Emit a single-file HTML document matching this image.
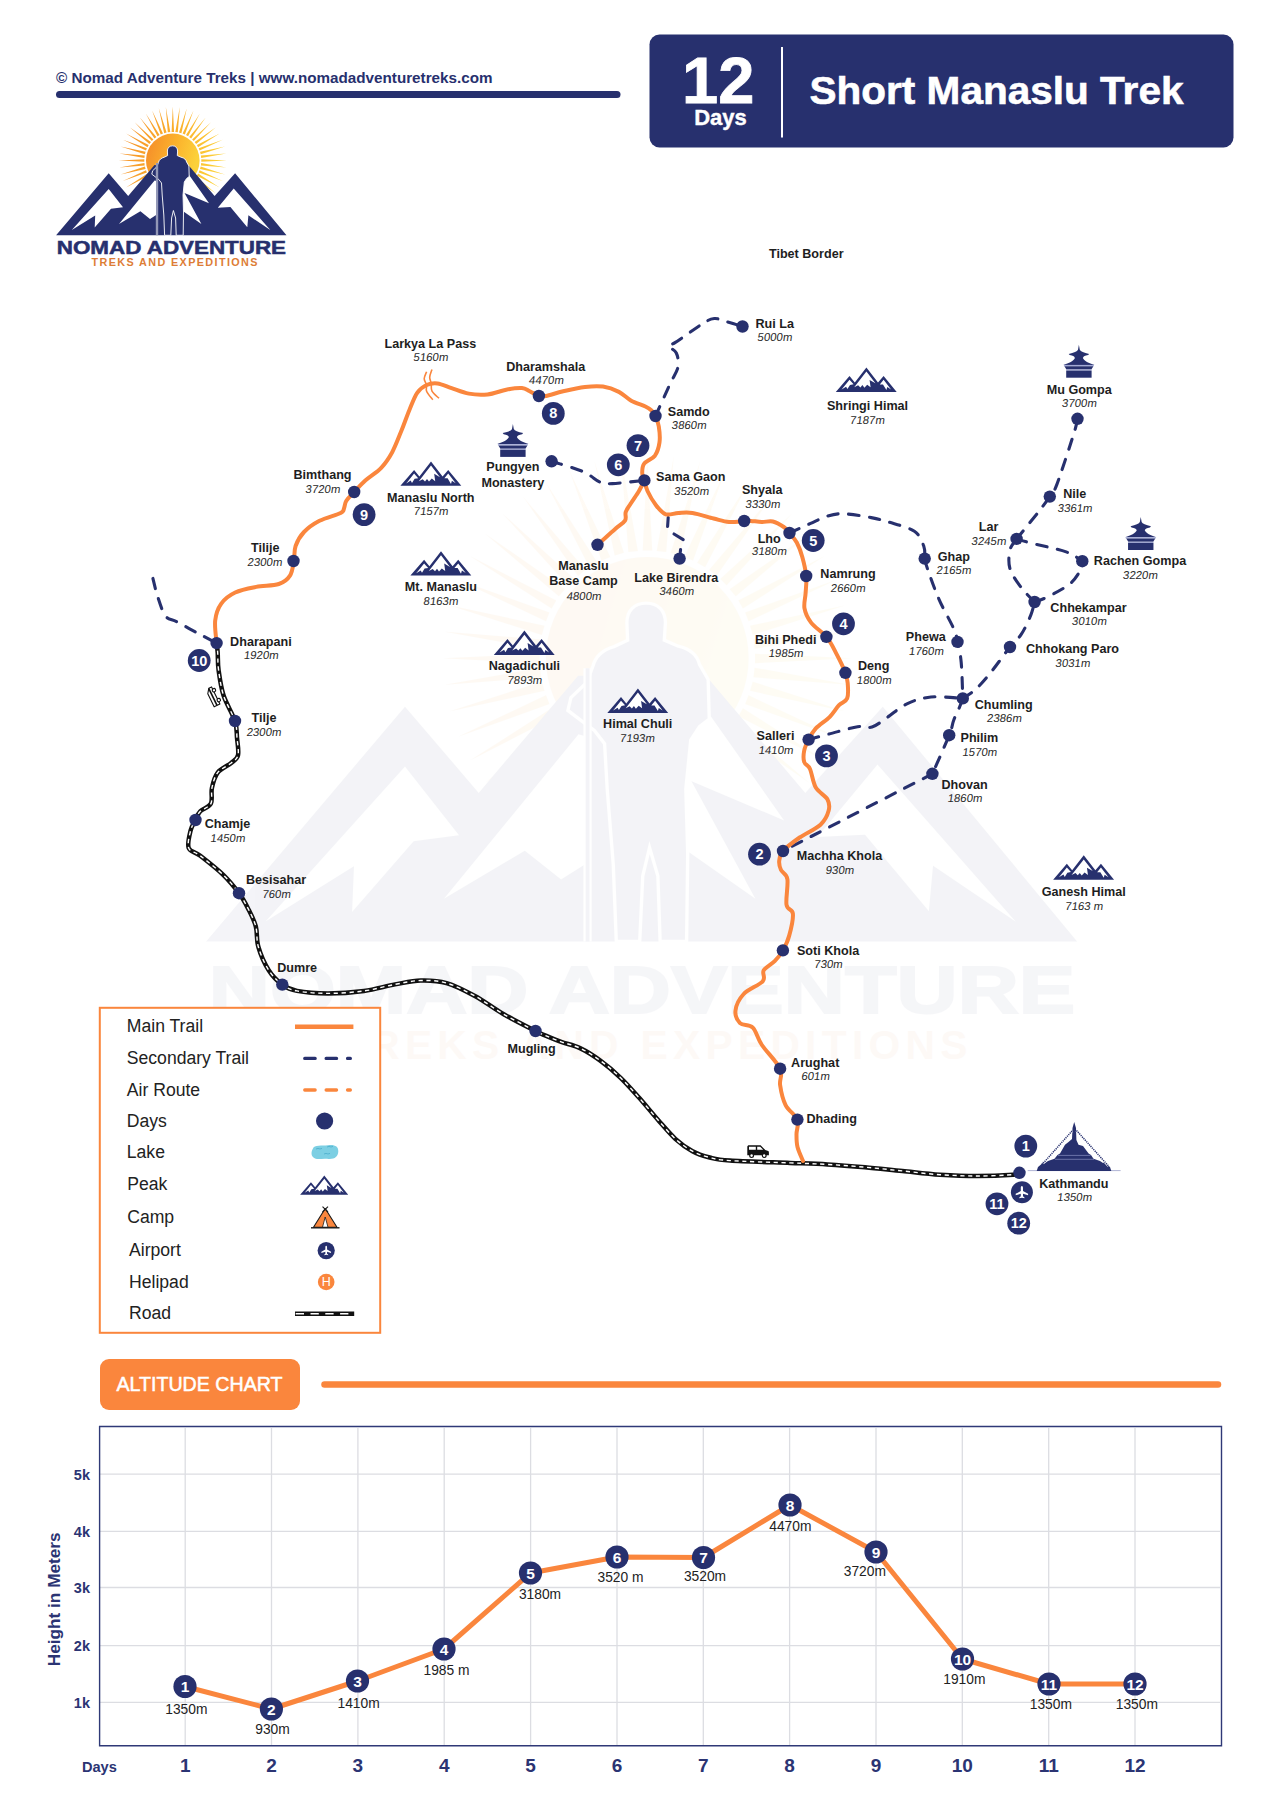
<!DOCTYPE html>
<html><head><meta charset="utf-8"><title>Short Manaslu Trek</title>
<style>
html,body{margin:0;padding:0;background:#fff;}
body{width:1280px;height:1811px;overflow:hidden;}
svg{display:block;font-family:"Liberation Sans",sans-serif;}
.lb{font-weight:bold;font-size:12.6px;fill:#1e1e1e;text-anchor:middle;}
.al{font-size:11.4px;fill:#2a2a2a;text-anchor:middle;}
.bn{font-weight:bold;font-size:14.5px;fill:#fff;text-anchor:middle;}
.lg{font-size:17.6px;fill:#222;}
.nv{fill:#27306e;}
</style></head><body>
<svg width="1280" height="1811" viewBox="0 0 1280 1811">
<defs>
<linearGradient id="sung" x1="0" y1="0" x2="1" y2="0.3">
<stop offset="0" stop-color="#f4892a"/><stop offset="0.55" stop-color="#fbb12c"/><stop offset="1" stop-color="#fcd13a"/>
</linearGradient>
<g id="peak">
<path d="M-30.6,0 L-16.9,-15.9 L-11.6,-9.4 L0,-24.4 L11.6,-9.4 L17.2,-15.9 L30.3,0 Z" fill="#27306e"/>
<path d="M0,-20.3 L9,-8.6 L3.2,-12 L4.2,-4.6 L0.8,-7.2 L-2,-4.2 L-4,-6.8 L-6,-4.4 L-8.3,-6.6 L-12.2,-4.6 Z" fill="#fff"/>
<path d="M-16.9,-12.2 L-12.8,-7.6 L-16.4,-7 L-19,-2.8 L-20.3,-5.2 L-24.8,-2.4 Z" fill="#fff"/>
<path d="M17.2,-12.2 L24.7,-2.5 L20.9,-5 L20,-1.9 L16.6,-7.5 L13.4,-7.5 Z" fill="#fff"/>
</g>
<g id="mono">
<path d="M0,-33 L0.9,-28 C1.6,-26.3 5,-25 10.2,-23.8 L9.2,-22.6 C6,-22 4.6,-21.2 4,-19.8 C5,-17 10,-14.6 15.6,-12.8 L-15.6,-12.8 C-10,-14.6 -5,-17 -4,-19.8 C-4.6,-21.2 -6,-22 -9.2,-22.6 L-10.2,-23.8 C-5,-25 -1.6,-26.3 -0.9,-28 Z" fill="#27306e"/>
<rect x="-15" y="-12.8" width="30" height="1.3" fill="#a3aad6"/>
<path d="M-14.5,-11.5 L14.5,-11.5 L12.5,-8.2 L-12.5,-8.2 Z" fill="#27306e"/>
<rect x="-12.7" y="-8.2" width="25.4" height="1.1" fill="#a3aad6"/>
<rect x="-12.7" y="-7.1" width="25.4" height="7.1" fill="#27306e"/>
</g>
<g id="lsun">
<path d="M201.3,161.7 L226.8,160.4 L201.3,159.2 Z M200.9,165.4 L226.3,167.4 L201.2,162.9 Z M200.0,169.0 L225.0,174.4 L200.7,166.6 Z M198.7,172.5 L222.7,181.1 L199.6,170.2 Z M196.9,175.7 L219.6,187.4 L198.1,173.6 Z M194.6,178.7 L215.6,193.3 L196.2,176.8 Z M192.1,181.4 L211.0,198.6 L193.8,179.7 Z M189.2,183.8 L205.7,203.2 L191.1,182.2 Z M186.0,185.7 L199.8,207.2 L188.1,184.5 Z M182.6,187.2 L193.5,210.3 L184.9,186.3 Z M179.0,188.3 L186.8,212.6 L181.4,187.6 Z M175.3,188.8 L179.8,213.9 L177.8,188.5 Z M171.6,188.9 L172.8,214.4 L174.1,188.9 Z M167.8,188.5 L165.8,213.9 L170.3,188.8 Z M164.2,187.6 L158.8,212.6 L166.6,188.3 Z M160.7,186.3 L152.1,210.3 L163.0,187.2 Z M157.5,184.5 L145.8,207.2 L159.6,185.7 Z M154.5,182.2 L139.9,203.2 L156.4,183.8 Z M151.8,179.7 L134.6,198.6 L153.5,181.4 Z M149.4,176.8 L130.0,193.3 L151.0,178.7 Z M147.5,173.6 L126.0,187.4 L148.7,175.7 Z M146.0,170.2 L122.9,181.1 L146.9,172.5 Z M144.9,166.6 L120.6,174.4 L145.6,169.0 Z M144.4,162.9 L119.3,167.4 L144.7,165.4 Z M144.3,159.2 L118.8,160.4 L144.3,161.7 Z M144.7,155.4 L119.3,153.4 L144.4,157.9 Z M145.6,151.8 L120.6,146.4 L144.9,154.2 Z M146.9,148.3 L122.9,139.7 L146.0,150.6 Z M148.7,145.1 L126.0,133.4 L147.5,147.2 Z M151.0,142.1 L130.0,127.5 L149.4,144.0 Z M153.5,139.4 L134.6,122.2 L151.8,141.1 Z M156.4,137.0 L139.9,117.6 L154.5,138.6 Z M159.6,135.1 L145.8,113.6 L157.5,136.3 Z M163.0,133.6 L152.1,110.5 L160.7,134.5 Z M166.6,132.5 L158.8,108.2 L164.2,133.2 Z M170.3,132.0 L165.8,106.9 L167.8,132.3 Z M174.1,131.9 L172.8,106.4 L171.6,131.9 Z M177.8,132.3 L179.8,106.9 L175.3,132.0 Z M181.4,133.2 L186.8,108.2 L179.0,132.5 Z M184.9,134.5 L193.5,110.5 L182.6,133.6 Z M188.1,136.3 L199.8,113.6 L186.0,135.1 Z M191.1,138.6 L205.7,117.6 L189.2,137.0 Z M193.8,141.1 L211.0,122.2 L192.1,139.4 Z M196.2,144.0 L215.6,127.5 L194.6,142.1 Z M198.1,147.2 L219.6,133.4 L196.9,145.1 Z M199.6,150.6 L222.7,139.7 L198.7,148.3 Z M200.7,154.2 L225.0,146.4 L200.0,151.8 Z M201.2,157.9 L226.3,153.4 L200.9,155.4 Z" fill="url(#sung)"/>
<circle cx="172.8" cy="160.4" r="26.8" fill="url(#sung)"/>
</g>
<g id="lmtn">
<path d="M56.1,235.3 L108.7,173.2 L128.2,196 L154.5,165 L188.3,165 L214.6,196 L235.1,173.2 L286.5,235.3 Z" fill="#27306e"/>
<path d="M108.7,189 L71.8,230 L95.2,215.4 L94.7,227.5 L111,208.8 L123,207.2 Z" fill="#fff"/>
<path d="M119,224 L154.6,180.5 L156.5,181 L156.5,214.8 L150,218.9 L140.4,211.3 Z" fill="#fff"/>
<path d="M187,172 L209,203.3 L184.5,192.9 L201.4,224 L182.8,211 L183,185 Z" fill="#fff"/>
<path d="M233.7,188.5 L217.8,207.7 L230.4,207.1 L247.3,227.3 L248.4,215.3 L270.3,230.1 Z" fill="#fff"/>
<path d="M172.5,145.8 C175.8,145.8 177.6,148 177.6,151 L177.3,155.6 L181,157.2 C184.5,158 186,159.6 186.6,162 L188.9,166 L189.2,176.5 L186.6,178.5 L184.3,182 L183,195 L183.5,212 L183.2,235.3 L176.2,235.3 L175.6,218 L173.4,210.5 L171.6,218 L170.8,235.3 L164.6,235.3 L163.8,215 L162.2,195 L161.5,183 L158.8,179.5 L155.5,177 L151.8,174.2 L152.6,170.8 L156.8,166.8 L158.4,162.5 C159.2,159.5 161.5,158 164,157.3 L167.6,155.6 L167.4,151 C167.4,148 169.2,145.8 172.5,145.8 Z" fill="#27306e" stroke="#fff" stroke-width="0.9"/>
<line x1="157" y1="163" x2="157" y2="235.3" stroke="#fff" stroke-width="2.2"/>
<line x1="157" y1="163" x2="157" y2="235.3" stroke="#27306e" stroke-width="1"/>
</g>
<g id="ltxt">
<text x="56.8" y="254.3" textLength="229.2" lengthAdjust="spacingAndGlyphs" style="font-weight:bold;font-size:17.6px" fill="#27306e" stroke="#27306e" stroke-width="0.5">NOMAD ADVENTURE</text>
<text x="91.5" y="266.3" textLength="166" lengthAdjust="spacing" style="font-size:10.8px;font-weight:bold" fill="#dd7d36">TREKS AND EXPEDITIONS</text>
</g>
<g id="logo"><use href="#lsun"/><use href="#lmtn"/><use href="#ltxt"/></g>
</defs>
<g transform="translate(-5.9,52) scale(3.78)"><g opacity="0.05"><use href="#lsun"/><use href="#lmtn"/></g><use href="#ltxt" opacity="0.04"/></g>
<text x="56" y="83" textLength="436.5" lengthAdjust="spacingAndGlyphs" style="font-weight:bold;font-size:15px" fill="#27306e">© Nomad Adventure Treks | www.nomadadventuretreks.com</text>
<line x1="59.5" y1="94.5" x2="617" y2="94.5" stroke="#27306e" stroke-width="7" stroke-linecap="round"/>
<rect x="649.5" y="34.5" width="584" height="113" rx="10" fill="#27306e"/>
<text x="718.2" y="102.5" text-anchor="middle" style="font-weight:bold;font-size:65px" fill="#fff" stroke="#fff" stroke-width="0.8">12</text>
<text x="720.5" y="125" text-anchor="middle" style="font-weight:bold;font-size:22px" fill="#fff" stroke="#fff" stroke-width="0.4">Days</text>
<rect x="781" y="47" width="2" height="90.5" fill="#fff"/>
<text x="809.5" y="103.7" textLength="374" lengthAdjust="spacingAndGlyphs" style="font-weight:bold;font-size:39.5px" fill="#fff" stroke="#fff" stroke-width="0.6">Short Manaslu Trek</text>
<use href="#logo"/>
<path d="M216.6,643.1 C216.8,644.7 217.4,648.3 217.7,652.8 C218.0,657.3 217.6,663.1 218.6,670.2 C219.6,677.3 220.8,686.8 223.5,695.3 C226.2,703.8 232.8,713.9 235.0,721.0 C237.2,728.1 236.5,732.1 237.0,737.8 C237.5,743.5 239.0,751.0 238.0,755.2 C237.0,759.5 234.6,760.1 231.2,763.0 C227.8,765.9 220.9,768.4 217.7,772.6 C214.5,776.8 213.0,782.9 211.9,788.1 C210.8,793.3 212.8,799.7 210.9,803.6 C209.0,807.5 202.9,808.6 200.3,811.3 C197.7,814.0 197.1,816.8 195.5,820.0 C193.9,823.2 191.7,825.9 190.6,830.6 C189.5,835.3 187.1,843.8 188.7,848.0 C190.3,852.2 194.5,851.3 200.3,855.8 C206.1,860.3 217.1,868.9 223.5,875.1 C229.9,881.3 234.9,887.7 239.0,893.2 C243.1,898.8 245.2,902.9 248.0,908.4 C250.8,913.9 254.1,920.0 255.8,926.4 C257.5,932.8 256.2,939.7 258.4,947.0 C260.5,954.3 264.7,963.9 268.7,970.2 C272.7,976.5 277.6,981.2 282.3,984.6 C287.0,988.0 289.4,989.4 297.0,990.9 C304.6,992.4 316.8,993.4 328.0,993.4 C339.2,993.4 352.8,992.4 364.0,990.9 C375.2,989.4 385.5,986.1 395.0,984.4 C404.5,982.7 412.2,980.7 420.8,980.5 C429.4,980.3 437.6,980.5 446.6,983.1 C455.6,985.7 465.4,990.9 474.9,996.0 C484.3,1001.1 493.2,1008.2 503.3,1014.0 C513.4,1019.8 528.5,1027.4 535.5,1031.0 C542.5,1034.6 541.3,1033.8 545.6,1035.6 C549.9,1037.4 555.5,1039.8 561.2,1041.9 C567.0,1044.0 573.5,1045.0 580.0,1048.1 C586.5,1051.2 593.5,1055.6 600.3,1060.6 C607.1,1065.5 614.1,1071.5 620.6,1077.8 C627.1,1084.0 633.1,1091.1 639.4,1098.1 C645.6,1105.1 652.1,1113.2 658.1,1120.0 C664.1,1126.8 669.6,1133.5 675.3,1138.8 C681.0,1144.0 686.8,1148.1 692.5,1151.2 C698.2,1154.4 703.5,1155.9 709.7,1157.5 C716.0,1159.1 716.6,1159.7 730.0,1160.6 C743.4,1161.5 773.8,1162.3 790.0,1162.9 C806.2,1163.5 815.0,1163.7 827.5,1164.4 C840.0,1165.1 852.5,1166.1 865.0,1167.2 C877.5,1168.3 890.0,1169.7 902.5,1170.9 C915.0,1172.2 927.5,1173.9 940.0,1174.7 C952.5,1175.5 965.3,1176.0 977.5,1176.0 C989.7,1176.0 1006.0,1175.2 1013.0,1174.7 C1020.0,1174.2 1018.4,1173.3 1019.5,1173.0" fill="none" stroke="#111" stroke-width="4.5" stroke-linejoin="round"/>
<path d="M216.6,643.1 C216.8,644.7 217.4,648.3 217.7,652.8 C218.0,657.3 217.6,663.1 218.6,670.2 C219.6,677.3 220.8,686.8 223.5,695.3 C226.2,703.8 232.8,713.9 235.0,721.0 C237.2,728.1 236.5,732.1 237.0,737.8 C237.5,743.5 239.0,751.0 238.0,755.2 C237.0,759.5 234.6,760.1 231.2,763.0 C227.8,765.9 220.9,768.4 217.7,772.6 C214.5,776.8 213.0,782.9 211.9,788.1 C210.8,793.3 212.8,799.7 210.9,803.6 C209.0,807.5 202.9,808.6 200.3,811.3 C197.7,814.0 197.1,816.8 195.5,820.0 C193.9,823.2 191.7,825.9 190.6,830.6 C189.5,835.3 187.1,843.8 188.7,848.0 C190.3,852.2 194.5,851.3 200.3,855.8 C206.1,860.3 217.1,868.9 223.5,875.1 C229.9,881.3 234.9,887.7 239.0,893.2 C243.1,898.8 245.2,902.9 248.0,908.4 C250.8,913.9 254.1,920.0 255.8,926.4 C257.5,932.8 256.2,939.7 258.4,947.0 C260.5,954.3 264.7,963.9 268.7,970.2 C272.7,976.5 277.6,981.2 282.3,984.6 C287.0,988.0 289.4,989.4 297.0,990.9 C304.6,992.4 316.8,993.4 328.0,993.4 C339.2,993.4 352.8,992.4 364.0,990.9 C375.2,989.4 385.5,986.1 395.0,984.4 C404.5,982.7 412.2,980.7 420.8,980.5 C429.4,980.3 437.6,980.5 446.6,983.1 C455.6,985.7 465.4,990.9 474.9,996.0 C484.3,1001.1 493.2,1008.2 503.3,1014.0 C513.4,1019.8 528.5,1027.4 535.5,1031.0 C542.5,1034.6 541.3,1033.8 545.6,1035.6 C549.9,1037.4 555.5,1039.8 561.2,1041.9 C567.0,1044.0 573.5,1045.0 580.0,1048.1 C586.5,1051.2 593.5,1055.6 600.3,1060.6 C607.1,1065.5 614.1,1071.5 620.6,1077.8 C627.1,1084.0 633.1,1091.1 639.4,1098.1 C645.6,1105.1 652.1,1113.2 658.1,1120.0 C664.1,1126.8 669.6,1133.5 675.3,1138.8 C681.0,1144.0 686.8,1148.1 692.5,1151.2 C698.2,1154.4 703.5,1155.9 709.7,1157.5 C716.0,1159.1 716.6,1159.7 730.0,1160.6 C743.4,1161.5 773.8,1162.3 790.0,1162.9 C806.2,1163.5 815.0,1163.7 827.5,1164.4 C840.0,1165.1 852.5,1166.1 865.0,1167.2 C877.5,1168.3 890.0,1169.7 902.5,1170.9 C915.0,1172.2 927.5,1173.9 940.0,1174.7 C952.5,1175.5 965.3,1176.0 977.5,1176.0 C989.7,1176.0 1006.0,1175.2 1013.0,1174.7 C1020.0,1174.2 1018.4,1173.3 1019.5,1173.0" fill="none" stroke="#fff" stroke-width="1.4" stroke-dasharray="4.2 3.6"/>
<path d="M152.9,578.4 C153.7,581.5 155.6,590.4 157.7,596.7 C159.8,603.0 162.3,611.8 165.5,616.0 C168.7,620.2 171.5,619.0 177.0,621.9 C182.5,624.8 191.7,630.0 198.3,633.5 C204.9,637.0 213.6,641.5 216.6,643.1" fill="none" stroke="#27306e" stroke-width="3.1" stroke-dasharray="10.5 10.5" stroke-linecap="round"/>
<path d="M655.5,416.0 C657.9,410.7 666.2,392.2 670.0,384.0 C673.8,375.8 677.0,372.2 678.0,367.0 C679.0,361.8 677.9,356.5 676.3,353.0 C674.7,349.5 668.6,347.8 668.5,346.0 C668.4,344.2 669.5,346.2 675.4,342.4 C681.3,338.6 697.2,327.0 703.7,323.0 C710.2,319.0 710.8,318.8 714.3,318.5 C717.8,318.2 720.3,319.9 725.0,321.2 C729.7,322.5 739.6,325.6 742.5,326.5" fill="none" stroke="#27306e" stroke-width="3.1" stroke-dasharray="10.5 10.5" stroke-linecap="round"/>
<path d="M551.6,461.3 C556.8,463.0 574.9,468.1 583.0,471.6 C591.1,475.1 595.5,480.3 600.4,482.3 C605.3,484.3 605.0,483.9 612.4,483.6 C619.7,483.3 639.1,480.9 644.4,480.4" fill="none" stroke="#27306e" stroke-width="3.1" stroke-dasharray="10.5 10.5" stroke-linecap="round"/>
<path d="M789.5,533.0 C792.9,531.5 803.7,526.5 810.0,523.7 C816.3,520.9 821.9,517.6 827.5,516.0 C833.1,514.4 836.6,513.5 843.9,513.8 C851.2,514.1 863.9,516.3 871.2,517.6 C878.6,519.0 880.9,519.6 888.1,521.9 C895.3,524.2 908.5,527.2 914.4,531.2 C920.3,535.3 922.0,541.7 923.8,546.2 C925.5,550.8 924.5,556.5 924.7,558.6" fill="none" stroke="#27306e" stroke-width="3.1" stroke-dasharray="10.5 10.5" stroke-linecap="round"/>
<path d="M924.7,558.6 C925.2,560.3 925.2,562.1 927.5,568.8 C929.8,575.4 934.4,588.8 938.8,598.8 C943.1,608.8 950.6,621.6 953.8,628.8 C956.9,635.9 956.2,636.3 957.5,641.9 C958.8,647.5 960.4,653.1 961.2,662.5 C962.1,671.9 962.5,692.4 962.8,698.4" fill="none" stroke="#27306e" stroke-width="3.1" stroke-dasharray="10.5 10.5" stroke-linecap="round"/>
<path d="M808.6,739.6 C812.0,738.7 820.8,736.1 829.0,734.0 C837.2,731.9 850.4,727.9 857.6,726.7 C864.8,725.5 866.9,728.6 872.0,727.0 C877.1,725.4 882.2,720.8 888.0,716.9 C893.8,713.0 899.7,707.1 906.9,703.8 C914.1,700.4 921.7,697.9 931.0,697.0 C940.3,696.1 957.5,698.2 962.8,698.4" fill="none" stroke="#27306e" stroke-width="3.1" stroke-dasharray="10.5 10.5" stroke-linecap="round"/>
<path d="M962.8,698.4 C962.2,699.9 960.9,703.9 959.4,707.5 C957.9,711.1 955.5,715.4 953.8,720.0 C952.0,724.6 952.8,726.2 949.2,735.2 C945.6,744.2 935.2,767.4 932.4,773.8" fill="none" stroke="#27306e" stroke-width="3.1" stroke-dasharray="10.5 10.5" stroke-linecap="round"/>
<path d="M932.4,773.8 C907.5,786.7 807.9,838.1 783.0,851.0" fill="none" stroke="#27306e" stroke-width="3.1" stroke-dasharray="10.5 10.5" stroke-linecap="round"/>
<path d="M962.8,698.4 C965.0,696.8 971.5,693.2 976.2,688.8 C981.0,684.3 985.6,678.9 991.2,671.9 C996.9,664.9 1005.0,653.2 1010.0,647.0 C1015.0,640.8 1017.8,639.6 1021.2,634.4 C1024.7,629.2 1028.4,621.0 1030.6,615.6 C1032.8,610.2 1033.9,604.3 1034.6,602.0" fill="none" stroke="#27306e" stroke-width="3.1" stroke-dasharray="10.5 10.5" stroke-linecap="round"/>
<path d="M1034.6,602.0 C1032.4,599.6 1025.3,593.0 1021.2,587.5 C1017.1,582.0 1011.9,575.0 1010.0,568.8 C1008.1,562.5 1008.9,555.0 1010.0,550.0 C1011.1,545.0 1015.5,540.8 1016.6,538.9" fill="none" stroke="#27306e" stroke-width="3.1" stroke-dasharray="10.5 10.5" stroke-linecap="round"/>
<path d="M1034.6,602.0 C1036.8,601.1 1041.6,599.9 1047.5,596.9 C1053.4,593.9 1064.4,588.4 1070.0,583.8 C1075.6,579.1 1079.2,572.5 1081.2,568.8 C1083.3,565.0 1082.1,562.5 1082.3,561.2" fill="none" stroke="#27306e" stroke-width="3.1" stroke-dasharray="10.5 10.5" stroke-linecap="round"/>
<path d="M1016.6,538.9 C1018.6,539.5 1020.5,540.3 1028.8,542.5 C1037.0,544.7 1057.3,548.8 1066.2,551.9 C1075.2,555.0 1079.6,559.7 1082.3,561.2" fill="none" stroke="#27306e" stroke-width="3.1" stroke-dasharray="10.5 10.5" stroke-linecap="round"/>
<path d="M1016.6,538.9 C1020.2,534.5 1032.5,519.5 1038.0,512.5 C1043.5,505.4 1046.6,501.3 1049.8,496.6 C1053.0,491.9 1052.9,494.9 1056.9,484.4 C1060.9,473.9 1070.3,444.7 1073.8,433.8 C1077.2,422.8 1076.9,421.3 1077.5,418.8" fill="none" stroke="#27306e" stroke-width="3.1" stroke-dasharray="10.5 10.5" stroke-linecap="round"/>
<path d="M668.2,517.5 L667.6,526.5 M674,534 L683.2,539.6 M680.6,549.5 L680.3,552" fill="none" stroke="#27306e" stroke-width="3.1" stroke-linecap="round"/>
<path d="M216.6,643.1 C216.4,639.4 214.4,627.2 215.2,620.6 C215.9,614.0 217.8,608.4 221.1,603.8 C224.4,599.1 229.3,595.3 235.2,592.5 C241.1,589.7 249.0,588.3 256.2,586.9 C263.5,585.5 273.1,585.9 278.8,584.0 C284.4,582.1 287.5,579.5 290.0,575.6 C292.5,571.8 293.0,565.8 293.9,560.9 C294.8,556.0 293.9,550.8 295.6,546.0 C297.3,541.2 300.0,536.2 304.0,532.0 C308.0,527.8 313.4,524.0 319.5,520.8 C325.6,517.6 336.5,515.1 340.6,513.0 C344.7,510.9 343.2,510.1 344.1,508.1 C345.0,506.1 344.6,503.7 346.2,501.0 C347.9,498.3 351.0,495.4 354.2,492.0 C357.4,488.6 361.1,484.3 365.6,480.3 C370.1,476.3 376.8,472.5 381.2,467.8 C385.7,463.1 388.8,458.4 392.2,452.2 C395.6,445.9 398.7,437.3 401.6,430.3 C404.5,423.3 406.8,416.2 409.4,410.0 C412.0,403.8 414.3,397.0 417.2,392.8 C420.1,388.6 423.2,386.6 426.6,385.0 C430.0,383.4 433.3,382.9 437.5,383.4 C441.7,383.9 446.4,386.4 451.6,388.1 C456.8,389.8 462.8,392.6 468.8,393.6 C474.7,394.7 481.2,395.0 487.5,394.4 C493.8,393.8 500.5,390.8 506.2,389.7 C512.0,388.6 518.0,387.8 521.9,388.1 C525.8,388.4 526.9,389.9 529.7,391.2 C532.5,392.6 536.2,395.2 538.9,396.0 C541.6,396.8 542.0,396.8 546.0,396.0 C550.0,395.2 556.7,392.8 563.2,391.3 C569.7,389.8 578.4,387.8 585.0,387.0 C591.6,386.2 597.4,385.8 603.0,386.6 C608.6,387.4 614.2,389.5 618.9,391.9 C623.6,394.2 626.8,398.3 631.2,400.7 C635.6,403.1 642.0,404.9 645.4,406.5 C648.8,408.1 649.8,408.9 651.5,410.5 C653.2,412.1 654.3,413.3 655.5,416.0 C656.7,418.7 658.1,422.1 658.8,426.5 C659.5,430.9 660.2,437.5 659.5,442.4 C658.8,447.3 657.4,452.1 654.9,455.7 C652.3,459.2 646.3,460.8 644.2,463.7 C642.1,466.6 642.2,470.2 642.2,473.0 C642.2,475.8 643.5,477.4 644.4,480.4 C645.3,483.4 645.6,486.9 647.5,491.0 C649.4,495.1 653.0,501.3 656.0,505.2 C659.0,509.1 662.1,513.0 665.8,514.3 C669.5,515.6 673.9,513.1 678.4,512.9 C682.9,512.7 686.6,512.0 692.5,512.9 C698.4,513.8 707.5,517.0 713.6,518.5 C719.7,520.0 723.9,521.6 729.0,522.0 C734.1,522.4 740.6,521.2 744.2,521.0 C747.9,520.8 748.0,520.7 750.9,520.9 C753.8,521.1 758.2,521.9 761.9,522.0 C765.5,522.1 769.2,520.7 772.8,521.5 C776.4,522.3 781.0,525.1 783.8,527.0 C786.5,528.9 787.3,530.4 789.5,533.0 C791.7,535.6 794.8,538.8 796.9,542.8 C799.0,546.8 800.8,551.5 802.3,557.0 C803.8,562.5 805.7,570.0 806.2,576.0 C806.8,582.0 805.9,587.7 805.6,593.1 C805.3,598.5 803.6,603.5 804.5,608.4 C805.4,613.3 807.5,617.9 811.1,622.6 C814.8,627.4 822.2,631.7 826.4,636.8 C830.6,641.9 833.1,647.3 836.2,653.3 C839.4,659.3 843.5,667.8 845.4,672.8 C847.3,677.8 847.4,679.0 847.7,683.2 C848.0,687.5 848.7,694.6 847.2,698.3 C845.8,702.0 841.9,702.1 839.0,705.2 C836.1,708.3 833.6,712.9 829.8,716.8 C825.9,720.7 819.3,724.6 815.8,728.4 C812.3,732.2 810.5,735.9 808.6,739.6 C806.7,743.3 804.9,746.8 804.2,750.5 C803.5,754.2 803.2,758.9 804.2,762.0 C805.2,765.1 808.1,764.7 810.0,769.0 C811.9,773.3 812.9,782.6 815.8,787.6 C818.7,792.6 825.3,795.3 827.4,799.2 C829.5,803.1 829.8,806.5 828.6,810.8 C827.5,815.0 825.3,820.2 820.5,824.7 C815.7,829.2 805.9,833.1 799.6,837.5 C793.4,841.9 786.4,847.1 783.0,851.0 C779.6,854.9 779.5,857.8 779.2,861.0 C778.9,864.2 779.6,867.0 781.0,870.0 C782.4,873.0 786.5,873.4 787.4,879.2 C788.3,885.0 785.6,898.9 786.5,904.7 C787.4,910.5 792.4,908.6 792.9,913.8 C793.4,919.0 790.9,929.5 789.2,935.6 C787.6,941.8 785.3,946.1 782.9,950.4 C780.5,954.7 777.9,957.9 774.7,961.2 C771.5,964.5 765.7,967.0 763.7,970.3 C761.7,973.6 766.1,977.2 762.8,981.2 C759.5,985.2 748.2,989.1 743.7,994.0 C739.2,998.9 736.1,1005.5 735.5,1010.4 C734.9,1015.2 737.1,1020.2 740.0,1023.1 C742.9,1026.0 749.1,1024.0 752.8,1027.7 C756.4,1031.4 757.3,1038.2 761.9,1045.0 C766.5,1051.8 777.1,1062.0 780.1,1068.7 C783.1,1075.4 779.2,1078.9 780.1,1085.0 C781.0,1091.1 782.7,1099.3 785.6,1105.1 C788.5,1110.9 795.6,1114.8 797.4,1119.6 C799.2,1124.4 796.5,1129.4 796.5,1134.0 C796.5,1138.6 796.4,1142.5 797.5,1147.0 C798.6,1151.5 802.1,1158.7 803.0,1161.0" fill="none" stroke="#fa863d" stroke-width="4" stroke-linejoin="round" stroke-linecap="round"/>
<path d="M644.4,480.4 C643.5,482.2 641.3,487.1 639.0,491.0 C636.7,494.9 632.8,500.2 630.6,503.8 C628.4,507.3 626.6,509.4 625.7,512.2 C624.8,515.0 626.8,517.8 625.0,520.6 C623.2,523.4 619.8,525.0 615.2,529.0 C610.6,533.0 600.5,542.2 597.5,544.8" fill="none" stroke="#fa863d" stroke-width="4" stroke-linecap="round"/>
<path d="M426.6,371.7 C426.2,372.9 424.2,376.5 424.2,378.8 C424.2,381.0 426.2,382.9 426.6,385.0 C427.0,387.1 425.6,388.8 426.6,391.2 C427.6,393.7 431.8,398.4 432.8,399.8" fill="none" stroke="#fa863d" stroke-width="1.6"/>
<path d="M432.0,369.4 C431.6,370.7 429.8,374.9 429.7,377.2 C429.6,379.5 430.9,381.1 431.2,383.4 C431.6,385.7 430.7,388.8 432.0,391.2 C433.3,393.7 437.8,397.1 439.0,398.3" fill="none" stroke="#fa863d" stroke-width="1.6"/>
<circle cx="216.6" cy="643.1" r="6.2" fill="#27306e"/>
<circle cx="293.5" cy="561" r="6.2" fill="#27306e"/>
<circle cx="354.2" cy="492" r="6.2" fill="#27306e"/>
<circle cx="538.9" cy="396" r="6.2" fill="#27306e"/>
<circle cx="655.5" cy="416" r="6.2" fill="#27306e"/>
<circle cx="644.4" cy="480.4" r="6.2" fill="#27306e"/>
<circle cx="551.6" cy="461.3" r="6.2" fill="#27306e"/>
<circle cx="597.5" cy="544.8" r="6.2" fill="#27306e"/>
<circle cx="679.6" cy="558.6" r="6.2" fill="#27306e"/>
<circle cx="742.5" cy="326.5" r="6.2" fill="#27306e"/>
<circle cx="744.2" cy="521" r="6.2" fill="#27306e"/>
<circle cx="789.5" cy="533" r="6.2" fill="#27306e"/>
<circle cx="806.2" cy="576" r="6.2" fill="#27306e"/>
<circle cx="826.4" cy="636.8" r="6.2" fill="#27306e"/>
<circle cx="845.4" cy="672.8" r="6.2" fill="#27306e"/>
<circle cx="808.6" cy="739.6" r="6.2" fill="#27306e"/>
<circle cx="783" cy="851" r="6.2" fill="#27306e"/>
<circle cx="782.9" cy="950.4" r="6.2" fill="#27306e"/>
<circle cx="780.1" cy="1068.7" r="6.2" fill="#27306e"/>
<circle cx="797.4" cy="1119.6" r="6.2" fill="#27306e"/>
<circle cx="1019.5" cy="1172.8" r="6.2" fill="#27306e"/>
<circle cx="924.7" cy="558.6" r="6.2" fill="#27306e"/>
<circle cx="957.5" cy="641.9" r="6.2" fill="#27306e"/>
<circle cx="962.8" cy="698.4" r="6.2" fill="#27306e"/>
<circle cx="949.2" cy="735.2" r="6.2" fill="#27306e"/>
<circle cx="932.4" cy="773.8" r="6.2" fill="#27306e"/>
<circle cx="1077.5" cy="418.8" r="6.2" fill="#27306e"/>
<circle cx="1049.8" cy="496.6" r="6.2" fill="#27306e"/>
<circle cx="1016.6" cy="538.9" r="6.2" fill="#27306e"/>
<circle cx="1082.3" cy="561.2" r="6.2" fill="#27306e"/>
<circle cx="1034.6" cy="602" r="6.2" fill="#27306e"/>
<circle cx="1010" cy="647" r="6.2" fill="#27306e"/>
<circle cx="235" cy="721" r="6.2" fill="#27306e"/>
<circle cx="195.5" cy="820" r="6.2" fill="#27306e"/>
<circle cx="239" cy="893.2" r="6.2" fill="#27306e"/>
<circle cx="282.3" cy="984.6" r="6.2" fill="#27306e"/>
<circle cx="535.5" cy="1031" r="6.2" fill="#27306e"/>
<circle cx="1025.8" cy="1146.1" r="11.4" fill="#27306e"/>
<text x="1025.8" y="1151.1" class="bn">1</text>
<circle cx="759.5" cy="854.2" r="11.4" fill="#27306e"/>
<text x="759.5" y="859.2" class="bn">2</text>
<circle cx="826.5" cy="755.9" r="11.4" fill="#27306e"/>
<text x="826.5" y="760.9" class="bn">3</text>
<circle cx="843.5" cy="623.8" r="11.4" fill="#27306e"/>
<text x="843.5" y="628.8" class="bn">4</text>
<circle cx="813.2" cy="540.5" r="11.4" fill="#27306e"/>
<text x="813.2" y="545.5" class="bn">5</text>
<circle cx="618.3" cy="464.8" r="11.4" fill="#27306e"/>
<text x="618.3" y="469.8" class="bn">6</text>
<circle cx="638" cy="445.6" r="11.4" fill="#27306e"/>
<text x="638" y="450.6" class="bn">7</text>
<circle cx="553.3" cy="413.4" r="11.4" fill="#27306e"/>
<text x="553.3" y="418.4" class="bn">8</text>
<circle cx="364.1" cy="514.6" r="11.4" fill="#27306e"/>
<text x="364.1" y="519.6" class="bn">9</text>
<circle cx="199.2" cy="660.5" r="11.4" fill="#27306e"/>
<text x="199.2" y="665.5" class="bn">10</text>
<circle cx="997" cy="1203.8" r="11.4" fill="#27306e"/>
<text x="997" y="1208.8" class="bn">11</text>
<circle cx="1018.7" cy="1223.2" r="11.4" fill="#27306e"/>
<text x="1018.7" y="1228.2" class="bn">12</text>
<circle cx="1021.9" cy="1192.25" r="11" fill="#27306e"/>
<path d="M0,-6.2 C0.9,-6.2 1.1,-5.2 1.1,-4 L1.1,-1.3 L6.2,1.6 L6.2,3 L1.1,1.4 L1.1,4 L2.6,5.3 L2.6,6.1 L0,5.4 L-2.6,6.1 L-2.6,5.3 L-1.1,4 L-1.1,1.4 L-6.2,3 L-6.2,1.6 L-1.1,-1.3 L-1.1,-4 C-1.1,-5.2 -0.9,-6.2 0,-6.2 Z" transform="translate(1021.9,1192.25)" fill="#fff"/>
<use href="#peak" transform="translate(866.4,391.9)"/>
<use href="#peak" transform="translate(431,485.8)"/>
<use href="#peak" transform="translate(441,575.6)"/>
<use href="#peak" transform="translate(524.4,655)"/>
<use href="#peak" transform="translate(637.9,712.9)"/>
<use href="#peak" transform="translate(1083.75,879.7)"/>
<use href="#mono" transform="translate(1078.9,377.7)"/>
<use href="#mono" transform="translate(512.9,456.9)"/>
<use href="#mono" transform="translate(1140.75,550)"/>
<line x1="1027.7" y1="1170.6" x2="1120.6" y2="1170.6" stroke="#9aa0c8" stroke-width="0.8"/>
<path d="M1036.7,1170.9 L1038,1167 L1041,1164.5 L1043,1161.5 L1045,1163 L1048,1161 L1054.5,1158.8 L1057.5,1155 L1060,1153.6 L1065,1144.7 L1068.5,1142 L1072,1139 L1072.5,1128 L1074.2,1122 L1076,1128 L1076.4,1140 L1078.5,1144.7 L1083,1146 L1088.6,1153.6 L1091,1155 L1093.5,1158.8 L1100,1161 L1103,1163 L1105,1161.5 L1107,1164.5 L1110,1167 L1111.3,1170.9 Z" fill="#27306e"/>
<line x1="1058" y1="1155.4" x2="1090.5" y2="1155.4" stroke="#7c84b8" stroke-width="0.8"/>
<line x1="1055" y1="1159.3" x2="1094" y2="1159.3" stroke="#7c84b8" stroke-width="0.8"/>
<line x1="1072" y1="1131" x2="1043" y2="1163.5" stroke="#fff" stroke-width="2.6"/>
<line x1="1072" y1="1131" x2="1043" y2="1163.5" stroke="#27306e" stroke-width="1.5" stroke-dasharray="1.2 0.9"/>
<line x1="1076.5" y1="1130.5" x2="1108.5" y2="1166" stroke="#fff" stroke-width="2.6"/>
<line x1="1076.5" y1="1130.5" x2="1108.5" y2="1166" stroke="#27306e" stroke-width="1.5" stroke-dasharray="1.2 0.9"/>
<g transform="translate(747,1145)">
<path d="M0.3,10.3 L0.3,1.8 C0.3,0.7 1,0.2 2.2,0.2 L13.6,0.2 L18.3,5 L21.2,6 C21.8,6.3 21.9,6.8 21.9,7.5 L21.9,10.3 Z" fill="#111"/>
<path d="M2,1.8 L8.8,1.8 L8.8,4.8 L2,4.8 Z M10.2,1.8 L13.2,1.8 L16.2,4.8 L10.2,4.8 Z" fill="#fff"/>
<circle cx="4.6" cy="10.6" r="1.9" fill="#fff" stroke="#111" stroke-width="1.2"/><circle cx="17.2" cy="10.6" r="1.9" fill="#fff" stroke="#111" stroke-width="1.2"/>
</g>
<g transform="translate(213.4,696.6) rotate(-116)" fill="#fff" stroke="#111" stroke-width="1.1" stroke-linejoin="round">
<path d="M-9.5,2.6 L-9.5,-3.8 L5,-3.8 L9.5,-0.5 L9.5,2.6 Z"/>
<line x1="-9.5" y1="-0.6" x2="9.5" y2="-0.6" stroke-width="1.6"/>
<circle cx="-5.5" cy="3.3" r="1.7"/><circle cx="5.5" cy="3.3" r="1.7"/>
</g>
<text x="430.3" y="348" class="lb">Larkya La Pass</text>
<text transform="translate(430.5,361) skewX(-8)" class="al">5160m</text>
<text x="545.7" y="371" class="lb">Dharamshala</text>
<text transform="translate(546,384) skewX(-8)" class="al">4470m</text>
<text x="688.75" y="416" class="lb">Samdo</text>
<text transform="translate(688.75,428.5) skewX(-8)" class="al">3860m</text>
<text x="690.75" y="481" class="lb">Sama Gaon</text>
<text transform="translate(691.25,495) skewX(-8)" class="al">3520m</text>
<text x="774.75" y="327.5" class="lb">Rui La</text>
<text transform="translate(774.5,341) skewX(-8)" class="al">5000m</text>
<text x="867.5" y="410" class="lb">Shringi Himal</text>
<text transform="translate(867,423.5) skewX(-8)" class="al">7187m</text>
<text x="1079.25" y="393.5" class="lb">Mu Gompa</text>
<text transform="translate(1079,406.5) skewX(-8)" class="al">3700m</text>
<text x="512.9" y="471" class="lb">Pungyen</text>
<text x="512.9" y="486.6" class="lb">Monastery</text>
<text x="322.5" y="479.4" class="lb">Bimthang</text>
<text transform="translate(322.5,493) skewX(-8)" class="al">3720m</text>
<text x="430.8" y="501.7" class="lb">Manaslu North</text>
<text transform="translate(430.7,515) skewX(-8)" class="al">7157m</text>
<text x="265.3" y="552.4" class="lb">Tilije</text>
<text transform="translate(264.5,566) skewX(-8)" class="al">2300m</text>
<text x="440.9" y="591" class="lb">Mt. Manaslu</text>
<text transform="translate(440.5,605) skewX(-8)" class="al">8163m</text>
<text x="583.5" y="570" class="lb">Manaslu</text>
<text x="583.5" y="585" class="lb">Base Camp</text>
<text transform="translate(583.6,599.7) skewX(-8)" class="al">4800m</text>
<text x="676.3" y="581.8" class="lb">Lake Birendra</text>
<text transform="translate(676.4,595.2) skewX(-8)" class="al">3460m</text>
<text x="762.25" y="494" class="lb">Shyala</text>
<text transform="translate(762.5,507.5) skewX(-8)" class="al">3330m</text>
<text x="769.2" y="542.8" class="lb">Lho</text>
<text transform="translate(769,555.4) skewX(-8)" class="al">3180m</text>
<text x="848" y="578.4" class="lb">Namrung</text>
<text transform="translate(847.75,591.5) skewX(-8)" class="al">2660m</text>
<text x="953.75" y="560.9" class="lb">Ghap</text>
<text transform="translate(953.5,574.4) skewX(-8)" class="al">2165m</text>
<text x="988.5" y="531.25" class="lb">Lar</text>
<text transform="translate(988.5,544.75) skewX(-8)" class="al">3245m</text>
<text x="1074.7" y="497.9" class="lb">Nile</text>
<text transform="translate(1074.7,511.6) skewX(-8)" class="al">3361m</text>
<text x="1140" y="565" class="lb">Rachen Gompa</text>
<text transform="translate(1140,579) skewX(-8)" class="al">3220m</text>
<text x="1088.5" y="611.5" class="lb">Chhekampar</text>
<text transform="translate(1089,625) skewX(-8)" class="al">3010m</text>
<text x="1072.5" y="652.5" class="lb">Chhokang Paro</text>
<text transform="translate(1072.5,666.5) skewX(-8)" class="al">3031m</text>
<text x="925.8" y="641" class="lb">Phewa</text>
<text transform="translate(926,654.6) skewX(-8)" class="al">1760m</text>
<text x="785.7" y="644" class="lb">Bihi Phedi</text>
<text transform="translate(785.65,657.1) skewX(-8)" class="al">1985m</text>
<text x="873.75" y="670" class="lb">Deng</text>
<text transform="translate(873.75,683.5) skewX(-8)" class="al">1800m</text>
<text x="260.9" y="645.6" class="lb">Dharapani</text>
<text transform="translate(260.85,658.75) skewX(-8)" class="al">1920m</text>
<text x="524.4" y="669.7" class="lb">Nagadichuli</text>
<text transform="translate(524.4,683.7) skewX(-8)" class="al">7893m</text>
<text x="637.7" y="728.2" class="lb">Himal Chuli</text>
<text transform="translate(637,742.2) skewX(-8)" class="al">7193m</text>
<text x="1003.7" y="708.6" class="lb">Chumling</text>
<text transform="translate(1004,721.5) skewX(-8)" class="al">2386m</text>
<text x="775.5" y="739.8" class="lb">Salleri</text>
<text transform="translate(775.6,753.5) skewX(-8)" class="al">1410m</text>
<text x="979.4" y="741.8" class="lb">Philim</text>
<text transform="translate(979.4,755.5) skewX(-8)" class="al">1570m</text>
<text x="964.6" y="788.7" class="lb">Dhovan</text>
<text transform="translate(964.6,801.6) skewX(-8)" class="al">1860m</text>
<text x="839.5" y="860" class="lb">Machha Khola</text>
<text transform="translate(839.5,873.8) skewX(-8)" class="al">930m</text>
<text x="1083.8" y="896" class="lb">Ganesh Himal</text>
<text transform="translate(1083.8,909.75) skewX(-8)" class="al">7163 m</text>
<text x="828.1" y="954.7" class="lb">Soti Khola</text>
<text transform="translate(828.1,967.6) skewX(-8)" class="al">730m</text>
<text x="264" y="721.6" class="lb">Tilje</text>
<text transform="translate(263.6,735.6) skewX(-8)" class="al">2300m</text>
<text x="227.4" y="828.4" class="lb">Chamje</text>
<text transform="translate(227.5,841.5) skewX(-8)" class="al">1450m</text>
<text x="276" y="883.5" class="lb">Besisahar</text>
<text transform="translate(276.2,897.5) skewX(-8)" class="al">760m</text>
<text x="297.1" y="972" class="lb">Dumre</text>
<text x="531.6" y="1053.2" class="lb">Mugling</text>
<text x="815.2" y="1066.6" class="lb">Arughat</text>
<text transform="translate(815.2,1079.7) skewX(-8)" class="al">601m</text>
<text x="831.7" y="1123.4" class="lb">Dhading</text>
<text x="1073.85" y="1187.65" class="lb">Kathmandu</text>
<text transform="translate(1074.25,1201.3) skewX(-8)" class="al">1350m</text>
<text x="806.25" y="257.6" class="lb">Tibet Border</text>
<rect x="99.8" y="1007.8" width="280.4" height="325" fill="#fff" stroke="#fa863d" stroke-width="2"/>
<text x="126.8" y="1032.4" class="lg">Main Trail</text>
<text x="126.8" y="1064.4" class="lg">Secondary Trail</text>
<text x="126.8" y="1095.9" class="lg">Air Route</text>
<text x="126.8" y="1126.9" class="lg">Days</text>
<text x="126.8" y="1158.4" class="lg">Lake</text>
<text x="127.2" y="1190" class="lg">Peak</text>
<text x="127.2" y="1222.6" class="lg">Camp</text>
<text x="129" y="1255.6" class="lg">Airport</text>
<text x="129" y="1287.5" class="lg">Helipad</text>
<text x="129" y="1319" class="lg">Road</text>
<line x1="295" y1="1026.8" x2="353.4" y2="1026.8" stroke="#fa863d" stroke-width="4.4"/>
<line x1="304.75" y1="1058.4" x2="350.35" y2="1058.4" stroke="#27306e" stroke-width="3.3" stroke-dasharray="10.4 11" stroke-linecap="round"/>
<line x1="304.75" y1="1090" x2="350.35" y2="1090" stroke="#fa863d" stroke-width="3.3" stroke-dasharray="10.4 11" stroke-linecap="round"/>
<circle cx="324.6" cy="1121" r="8.6" fill="#27306e"/>
<path d="M313,1148.5 C314,1144.5 322,1146 328,1145.2 C335,1144.5 338.5,1146.5 338.3,1151.5 C338,1157 334,1159.8 327,1158.8 C322,1158 317,1160.5 313.5,1157.5 C310.5,1155 311.5,1151 313,1148.5 Z" fill="#7ccfe3"/>
<path d="M316,1149 l2,-0.6 l2,0.6 l2,-0.6 M327,1147 l2,-0.6 l2,0.6 l2,-0.6 M324,1154 l2,-0.6 l2,0.6 l2,-0.6" stroke="#3aa3c4" stroke-width="0.6" fill="none"/>
<use href="#peak" transform="translate(324.3,1194.7) scale(0.79)"/>
<g stroke="#1b1b1b" stroke-width="1.1" stroke-linejoin="round">
<path d="M325.2,1208.5 L313.5,1227.2 L337,1227.2 Z" fill="#fa863d"/>
<path d="M325.2,1217 L322.5,1227.2 L328,1227.2 Z" fill="#fff" stroke-width="0.8"/>
<line x1="311" y1="1227.8" x2="339.5" y2="1227.8" stroke-width="1.4"/>
<line x1="322.5" y1="1206.6" x2="328" y2="1212" /><line x1="328" y1="1206.6" x2="322.5" y2="1212"/>
</g>
<circle cx="326.2" cy="1250.6" r="8.6" fill="#27306e"/>
<path d="M0,-6.2 C0.9,-6.2 1.1,-5.2 1.1,-4 L1.1,-1.3 L6.2,1.6 L6.2,3 L1.1,1.4 L1.1,4 L2.6,5.3 L2.6,6.1 L0,5.4 L-2.6,6.1 L-2.6,5.3 L-1.1,4 L-1.1,1.4 L-6.2,3 L-6.2,1.6 L-1.1,-1.3 L-1.1,-4 C-1.1,-5.2 -0.9,-6.2 0,-6.2 Z" transform="translate(326.2,1250.6) scale(0.78)" fill="#fff"/>
<circle cx="326.2" cy="1282" r="8.3" fill="#fa863d"/>
<text x="326.2" y="1286.3" text-anchor="middle" style="font-size:12.5px" fill="#fff">H</text>
<line x1="295" y1="1313.8" x2="354.2" y2="1313.8" stroke="#111" stroke-width="4.5"/>
<line x1="295.7" y1="1313.8" x2="354" y2="1313.8" stroke="#fff" stroke-width="1.4" stroke-dasharray="8.3 6.5"/>
<rect x="100" y="1359" width="200" height="51" rx="9" fill="#fa863d"/>
<text x="199.5" y="1391" text-anchor="middle" textLength="166" lengthAdjust="spacingAndGlyphs" style="font-size:19.5px" fill="#fff" stroke="#fff" stroke-width="0.5">ALTITUDE CHART</text>
<line x1="324.5" y1="1384.5" x2="1218" y2="1384.5" stroke="#fa863d" stroke-width="6.5" stroke-linecap="round"/>
<line x1="185.2" y1="1428" x2="185.2" y2="1745" stroke="#dcdde2" stroke-width="1.3"/>
<line x1="271.5" y1="1428" x2="271.5" y2="1745" stroke="#dcdde2" stroke-width="1.3"/>
<line x1="357.9" y1="1428" x2="357.9" y2="1745" stroke="#dcdde2" stroke-width="1.3"/>
<line x1="444.2" y1="1428" x2="444.2" y2="1745" stroke="#dcdde2" stroke-width="1.3"/>
<line x1="530.6" y1="1428" x2="530.6" y2="1745" stroke="#dcdde2" stroke-width="1.3"/>
<line x1="617.0" y1="1428" x2="617.0" y2="1745" stroke="#dcdde2" stroke-width="1.3"/>
<line x1="703.3" y1="1428" x2="703.3" y2="1745" stroke="#dcdde2" stroke-width="1.3"/>
<line x1="789.6" y1="1428" x2="789.6" y2="1745" stroke="#dcdde2" stroke-width="1.3"/>
<line x1="876.0" y1="1428" x2="876.0" y2="1745" stroke="#dcdde2" stroke-width="1.3"/>
<line x1="962.3" y1="1428" x2="962.3" y2="1745" stroke="#dcdde2" stroke-width="1.3"/>
<line x1="1048.7" y1="1428" x2="1048.7" y2="1745" stroke="#dcdde2" stroke-width="1.3"/>
<line x1="1135.0" y1="1428" x2="1135.0" y2="1745" stroke="#dcdde2" stroke-width="1.3"/>
<line x1="100" y1="1474.1" x2="1220" y2="1474.1" stroke="#dcdde2" stroke-width="1.3"/>
<text x="90" y="1479.6" text-anchor="end" style="font-weight:bold;font-size:14.5px" fill="#2b3473">5k</text>
<line x1="100" y1="1531.3" x2="1220" y2="1531.3" stroke="#dcdde2" stroke-width="1.3"/>
<text x="90" y="1536.8" text-anchor="end" style="font-weight:bold;font-size:14.5px" fill="#2b3473">4k</text>
<line x1="100" y1="1587.5" x2="1220" y2="1587.5" stroke="#dcdde2" stroke-width="1.3"/>
<text x="90" y="1593.0" text-anchor="end" style="font-weight:bold;font-size:14.5px" fill="#2b3473">3k</text>
<line x1="100" y1="1645.7" x2="1220" y2="1645.7" stroke="#dcdde2" stroke-width="1.3"/>
<text x="90" y="1651.2" text-anchor="end" style="font-weight:bold;font-size:14.5px" fill="#2b3473">2k</text>
<line x1="100" y1="1702.3" x2="1220" y2="1702.3" stroke="#dcdde2" stroke-width="1.3"/>
<text x="90" y="1707.8" text-anchor="end" style="font-weight:bold;font-size:14.5px" fill="#2b3473">1k</text>
<rect x="99.6" y="1426.5" width="1121.9" height="1119.3" fill="none" stroke="#2f3977" stroke-width="1.3" style="display:none"/>
<path d="M99.6,1426.5 L1221.5,1426.5 L1221.5,1745.8 L99.6,1745.8 Z" fill="none" stroke="#2f3977" stroke-width="1.4"/>
<text transform="translate(60.4,1599.3) rotate(-90)" text-anchor="middle" style="font-weight:bold;font-size:17.2px" fill="#2b3473">Height in Meters</text>
<text x="81.9" y="1772.3" style="font-weight:bold;font-size:14.6px" fill="#2b3473">Days</text>
<text x="185.2" y="1772" text-anchor="middle" style="font-weight:bold;font-size:19px" fill="#2b3473">1</text>
<text x="271.5" y="1772" text-anchor="middle" style="font-weight:bold;font-size:19px" fill="#2b3473">2</text>
<text x="357.9" y="1772" text-anchor="middle" style="font-weight:bold;font-size:19px" fill="#2b3473">3</text>
<text x="444.2" y="1772" text-anchor="middle" style="font-weight:bold;font-size:19px" fill="#2b3473">4</text>
<text x="530.6" y="1772" text-anchor="middle" style="font-weight:bold;font-size:19px" fill="#2b3473">5</text>
<text x="617.0" y="1772" text-anchor="middle" style="font-weight:bold;font-size:19px" fill="#2b3473">6</text>
<text x="703.3" y="1772" text-anchor="middle" style="font-weight:bold;font-size:19px" fill="#2b3473">7</text>
<text x="789.6" y="1772" text-anchor="middle" style="font-weight:bold;font-size:19px" fill="#2b3473">8</text>
<text x="876.0" y="1772" text-anchor="middle" style="font-weight:bold;font-size:19px" fill="#2b3473">9</text>
<text x="962.3" y="1772" text-anchor="middle" style="font-weight:bold;font-size:19px" fill="#2b3473">10</text>
<text x="1048.7" y="1772" text-anchor="middle" style="font-weight:bold;font-size:19px" fill="#2b3473">11</text>
<text x="1135.0" y="1772" text-anchor="middle" style="font-weight:bold;font-size:19px" fill="#2b3473">12</text>
<path d="M185.0,1686.5 L271.4,1709.0 L357.5,1681.0 L444.0,1649.0 L530.5,1573.0 L617.0,1557.0 L703.5,1557.5 L790.0,1505.0 L876.0,1552.0 L962.5,1659.0 L1049.0,1684.0 L1135.0,1684.0" fill="none" stroke="#fa863d" stroke-width="5" stroke-linejoin="round"/>
<circle cx="185" cy="1686.5" r="11.6" fill="#27306e"/>
<text x="185" y="1692.1" class="bn" style="font-size:15.5px">1</text>
<circle cx="271.4" cy="1709" r="11.6" fill="#27306e"/>
<text x="271.4" y="1714.6" class="bn" style="font-size:15.5px">2</text>
<circle cx="357.5" cy="1681" r="11.6" fill="#27306e"/>
<text x="357.5" y="1686.6" class="bn" style="font-size:15.5px">3</text>
<circle cx="444" cy="1649" r="11.6" fill="#27306e"/>
<text x="444" y="1654.6" class="bn" style="font-size:15.5px">4</text>
<circle cx="530.5" cy="1573" r="11.6" fill="#27306e"/>
<text x="530.5" y="1578.6" class="bn" style="font-size:15.5px">5</text>
<circle cx="617" cy="1557" r="11.6" fill="#27306e"/>
<text x="617" y="1562.6" class="bn" style="font-size:15.5px">6</text>
<circle cx="703.5" cy="1557.5" r="11.6" fill="#27306e"/>
<text x="703.5" y="1563.1" class="bn" style="font-size:15.5px">7</text>
<circle cx="790" cy="1505" r="11.6" fill="#27306e"/>
<text x="790" y="1510.6" class="bn" style="font-size:15.5px">8</text>
<circle cx="876" cy="1552" r="11.6" fill="#27306e"/>
<text x="876" y="1557.6" class="bn" style="font-size:15.5px">9</text>
<circle cx="962.5" cy="1659" r="11.6" fill="#27306e"/>
<text x="962.5" y="1664.6" class="bn" style="font-size:15.5px">10</text>
<circle cx="1049" cy="1684" r="11.6" fill="#27306e"/>
<text x="1049" y="1689.6" class="bn" style="font-size:15.5px">11</text>
<circle cx="1135" cy="1684" r="11.6" fill="#27306e"/>
<text x="1135" y="1689.6" class="bn" style="font-size:15.5px">12</text>
<text x="186.3" y="1714.1" text-anchor="middle" style="font-size:13.8px" fill="#222">1350m</text>
<text x="272.5" y="1734.1" text-anchor="middle" style="font-size:13.8px" fill="#222">930m</text>
<text x="358.6" y="1707.5" text-anchor="middle" style="font-size:13.8px" fill="#222">1410m</text>
<text x="446.5" y="1675" text-anchor="middle" style="font-size:13.8px" fill="#222">1985 m</text>
<text x="540" y="1599" text-anchor="middle" style="font-size:13.8px" fill="#222">3180m</text>
<text x="620.5" y="1582" text-anchor="middle" style="font-size:13.8px" fill="#222">3520 m</text>
<text x="705" y="1581" text-anchor="middle" style="font-size:13.8px" fill="#222">3520m</text>
<text x="790.3" y="1531" text-anchor="middle" style="font-size:13.8px" fill="#222">4470m</text>
<text x="864.8" y="1576" text-anchor="middle" style="font-size:13.8px" fill="#222">3720m</text>
<text x="964.3" y="1684" text-anchor="middle" style="font-size:13.8px" fill="#222">1910m</text>
<text x="1050.8" y="1709" text-anchor="middle" style="font-size:13.8px" fill="#222">1350m</text>
<text x="1136.8" y="1709" text-anchor="middle" style="font-size:13.8px" fill="#222">1350m</text>
</svg>
</body></html>
